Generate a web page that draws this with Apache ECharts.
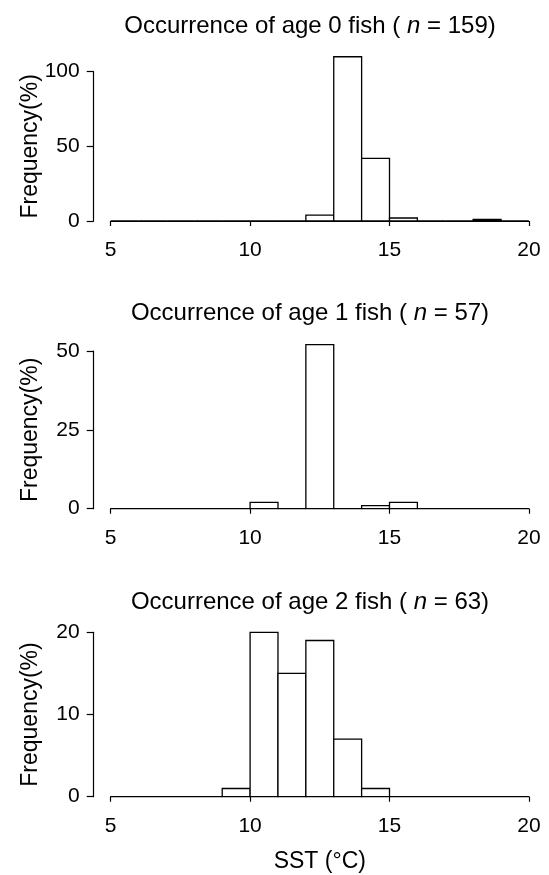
<!DOCTYPE html>
<html>
<head>
<meta charset="utf-8">
<script src="https://cdn.jsdelivr.net/npm/echarts@6/dist/echarts.min.js"></script>
<style>
    html, body { margin: 0; padding: 0; background: #fff; }
    #chart { width: 549px; height: 875px; }
</style>
</head>
<body>
<div id="chart"></div>
<script>
// SST bins (°C), one degree wide
const binLow = [5, 6, 7, 8, 9, 10, 11, 12, 13, 14, 15, 16, 17, 18, 19]
const binHigh = [6, 7, 8, 9, 10, 11, 12, 13, 14, 15, 16, 17, 18, 19, 20]
// counts per bin
const age0 = [0, 0, 0, 0, 0, 0, 0, 4, 110, 42, 2, 0, 0, 1, 0]
const age1 = [0, 0, 0, 0, 0, 2, 0, 52, 0, 1, 2, 0, 0, 0, 0]
const age2 = [0, 0, 0, 0, 1, 20, 15, 19, 7, 1, 0, 0, 0, 0, 0]
const ages = ['0', '1', '2']
const sampleN = ['159', '57', '63']
const yMax = [100, 50, 20]
const yStep = [50, 25, 10]
const counts = [age0, age1, age2]

const font = "'Liberation Sans', Arial, Helvetica, sans-serif"
const grids = [
    { left: 110.7, right: 20.1, top: 71.7, height: 149.3 },
    { left: 110.7, right: 20.1, top: 351, height: 157.7 },
    { left: 110.7, right: 20.1, top: 632.3, height: 164.4 },
]
const titleTops = [9, 296, 585]

function renderBin(params, api) {
    const p0 = api.coord([api.value(0), 0])
    const p1 = api.coord([api.value(1), api.value(2)])
    return {
        type: 'rect',
        shape: { x: p0[0], y: p1[1], width: p1[0] - p0[0], height: p0[1] - p1[1] },
        style: { fill: '#fff', stroke: '#000', lineWidth: 1.3 },
    }
}

const chart = echarts.init(document.getElementById('chart'), null, { renderer: 'canvas' })
const option = {
    animation: false,
    backgroundColor: '#fff',
    title: ages.map((a, i) => ({
        text: '{a|Occurrence of age ' + a + ' fish ( }{i|n}{a| = ' + sampleN[i] + ')}',
        left: 305,
        textAlign: 'center',
        top: titleTops[i],
        textStyle: {
            fontWeight: 'normal',
            rich: {
                a: { fontFamily: font, fontSize: 24, fontWeight: 'normal', color: '#000' },
                i: { fontFamily: font, fontSize: 24, fontWeight: 'normal', fontStyle: 'italic', color: '#000' },
            },
        },
    })),
    grid: grids,
    xAxis: grids.map((g, i) => ({
        gridIndex: i,
        type: 'value',
        min: 5,
        max: 20,
        interval: 5,
        offset: 7,
        name: i === 2 ? 'SST (°C)' : '',
        nameLocation: 'middle',
        nameGap: 46,
        nameTextStyle: { fontFamily: font, fontSize: 23, color: '#000' },
        axisLine: { show: true, lineStyle: { color: '#000', width: 1.2 } },
        axisTick: { show: true, length: 5, lineStyle: { color: '#000', width: 1.2 } },
        axisLabel: { fontFamily: font, fontSize: 21, color: '#000', margin: 12 },
        splitLine: { show: false },
    })),
    yAxis: grids.map((g, i) => ({
        gridIndex: i,
        type: 'value',
        min: 0,
        max: yMax[i],
        interval: yStep[i],
        offset: 17,
        name: 'Frequency(%)',
        nameLocation: 'middle',
        nameRotate: 90,
        nameGap: 52,
        nameMoveOverlap: false,
        nameTextStyle: { fontFamily: font, fontSize: 23, color: '#000' },
        axisLine: { show: true, lineStyle: { color: '#000', width: 1.2 } },
        axisTick: { show: true, length: 7, lineStyle: { color: '#000', width: 1.2 } },
        axisLabel: { fontFamily: font, fontSize: 21, color: '#000', margin: 14 },
        splitLine: { show: false },
    })),
    series: counts.map((c, i) => ({
        type: 'custom',
        xAxisIndex: i,
        yAxisIndex: i,
        clip: false,
        renderItem: renderBin,
        data: c.map((v, k) => [binLow[k], binHigh[k], v]),
    })),
}
chart.setOption(option)
</script>
</body>
</html>
